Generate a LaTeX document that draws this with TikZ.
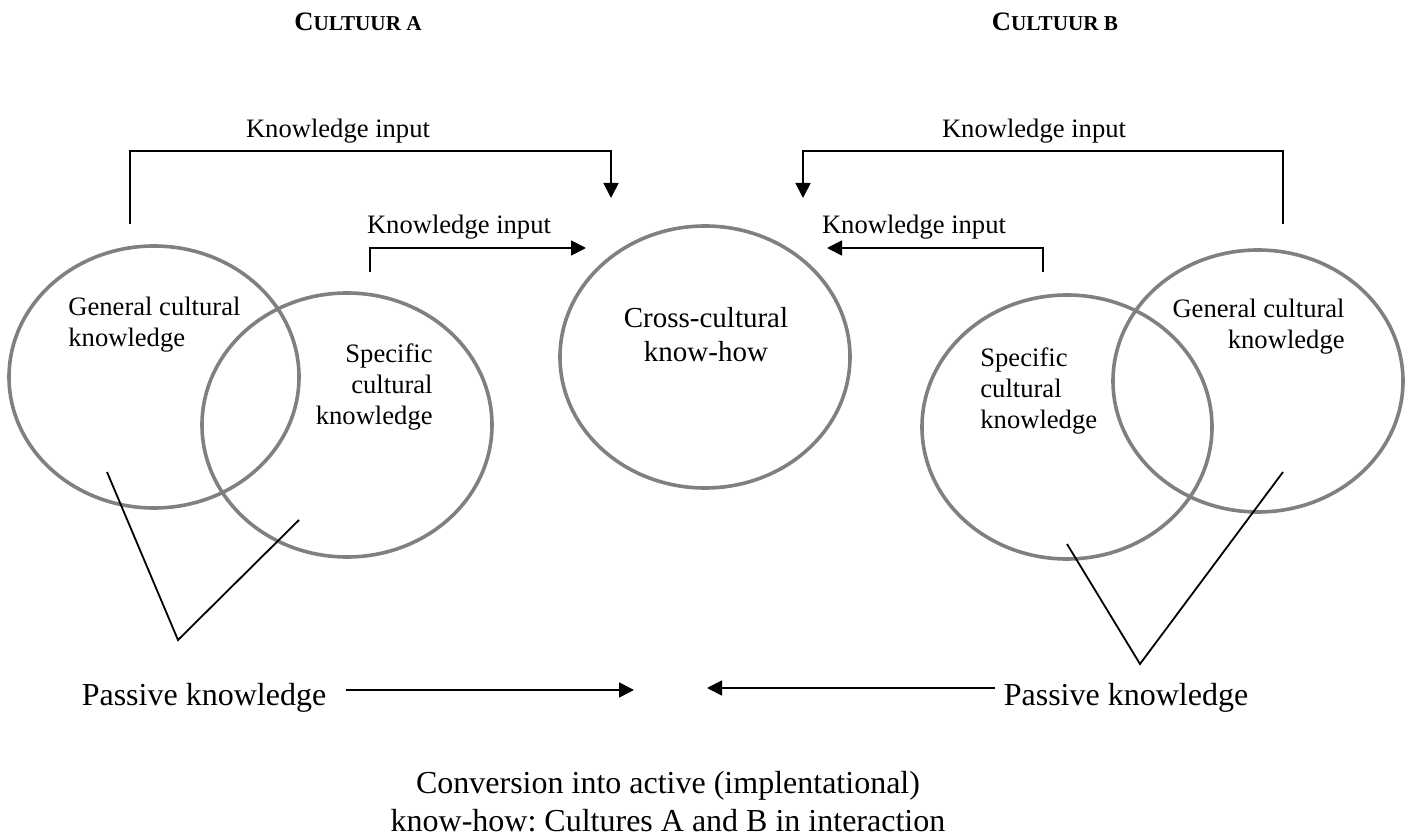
\documentclass[tikz,border=0pt]{standalone}
\usepackage{fontspec}
\setmainfont{Liberation Serif}
\frenchspacing
\usetikzlibrary{arrows.meta,shapes.geometric}
\definecolor{ringgray}{HTML}{808080}
% block of lines; first baseline is the box baseline
\newcommand{\stack}[2]{\begin{tabular}[t]{@{}#1@{}}#2\end{tabular}}
% bold heading set in small capitals
\newcommand{\culthead}[1]{\textbf{{\fontsize{13.3}{16}\selectfont C}{\fontsize{10.6}{13}\selectfont #1}}}
\begin{document}
\begin{tikzpicture}[x=0.5pt,y=-0.5pt,
  ring/.style={draw=ringgray,line width=1.8pt,ellipse,inner sep=0pt,minimum width=145pt,minimum height=131pt},
  body/.style={inner sep=0pt,font=\fontsize{13.3}{15.5}\selectfont},
  big/.style={inner sep=0pt,font=\fontsize{16}{19.5}\selectfont},
  link/.style={line width=0.9pt},
  flow/.style={line width=0.9pt,-{Triangle[width=7.5pt,length=7.5pt]}}]
\useasboundingbox (0,0) rectangle (1410,839);

% headings
\node[inner sep=0pt,anchor=base] (headA) at (358,31) {\culthead{ULTUUR A}};
\node[inner sep=0pt,anchor=base] (headB) at (1055,31) {\culthead{ULTUUR B}};

% knowledge sets
\node[ring] (genA) at (154,377) {};
\node[ring,minimum height=132pt] (specA) at (347,425) {};
\node[ring] (cross) at (705,357) {};
\node[ring,minimum height=132pt] (specB) at (1067,427) {};
\node[ring] (genB) at (1258,381) {};

\node[body,anchor=base west] (genAtxt) at (68,316) {\stack{l}{General cultural\\knowledge}};
\node[body,anchor=base east] (specAtxt) at (433,363) {\stack{r}{Specific\\cultural\\knowledge}};
\node[inner sep=0pt,anchor=base,font=\fontsize{14.5}{17}\selectfont] (crosstxt) at (706,328) {\stack{c}{Cross-cultural\\know-how}};
\node[body,anchor=base west] (specBtxt) at (980,367) {\stack{l}{Specific\\cultural\\knowledge}};
\node[body,anchor=base east] (genBtxt) at (1345,318) {\stack{r}{General cultural\\knowledge}};

% knowledge input, culture A
\node[body,anchor=base] (inA1) at (338,138) {Knowledge input};
\node[body,anchor=base] (inA2) at (459,234) {Knowledge input};
\coordinate (inA1s) at (130,224);
\coordinate (inA1k) at (130,151);
\coordinate (inA1t) at (611,198);
\coordinate (inA2s) at (370,272);
\coordinate (inA2t) at (586,248);
\draw[flow] (inA1s) -- (inA1k) -| (inA1t);
\draw[flow] (inA2s) |- (inA2t);

% knowledge input, culture B
\node[body,anchor=base] (inB1) at (1034,138) {Knowledge input};
\node[body,anchor=base] (inB2) at (914,234) {Knowledge input};
\coordinate (inB1s) at (1283,224);
\coordinate (inB1k) at (1283,151);
\coordinate (inB1t) at (803,198);
\coordinate (inB2s) at (1043,272);
\coordinate (inB2t) at (827,248);
\draw[flow] (inB1s) -- (inB1k) -| (inB1t);
\draw[flow] (inB2s) |- (inB2t);

% passive knowledge pointers
\coordinate (vA) at (178,640);
\coordinate (vA1) at (107,472);
\coordinate (vA2) at (299,520);
\draw[link] (vA1) -- (vA) -- (vA2);
\coordinate (vB) at (1140,664);
\coordinate (vB1) at (1067,544);
\coordinate (vB2) at (1283,472);
\draw[link] (vB1) -- (vB) -- (vB2);

\node[big,anchor=base] (passA) at (204,706) {Passive knowledge};
\node[big,anchor=base] (passB) at (1126,706) {Passive knowledge};
\coordinate (pA1) at (346,690);
\coordinate (pA2) at (634,690);
\coordinate (pB1) at (995,688);
\coordinate (pB2) at (707,688);
\draw[flow] (pA1) -- (pA2);
\draw[flow] (pB1) -- (pB2);

\node[big,anchor=base] (result) at (668,793) {\stack{c}{Conversion into active (implentational)\\know-how: Cultures A and B in interaction}};
\end{tikzpicture}
\end{document}
